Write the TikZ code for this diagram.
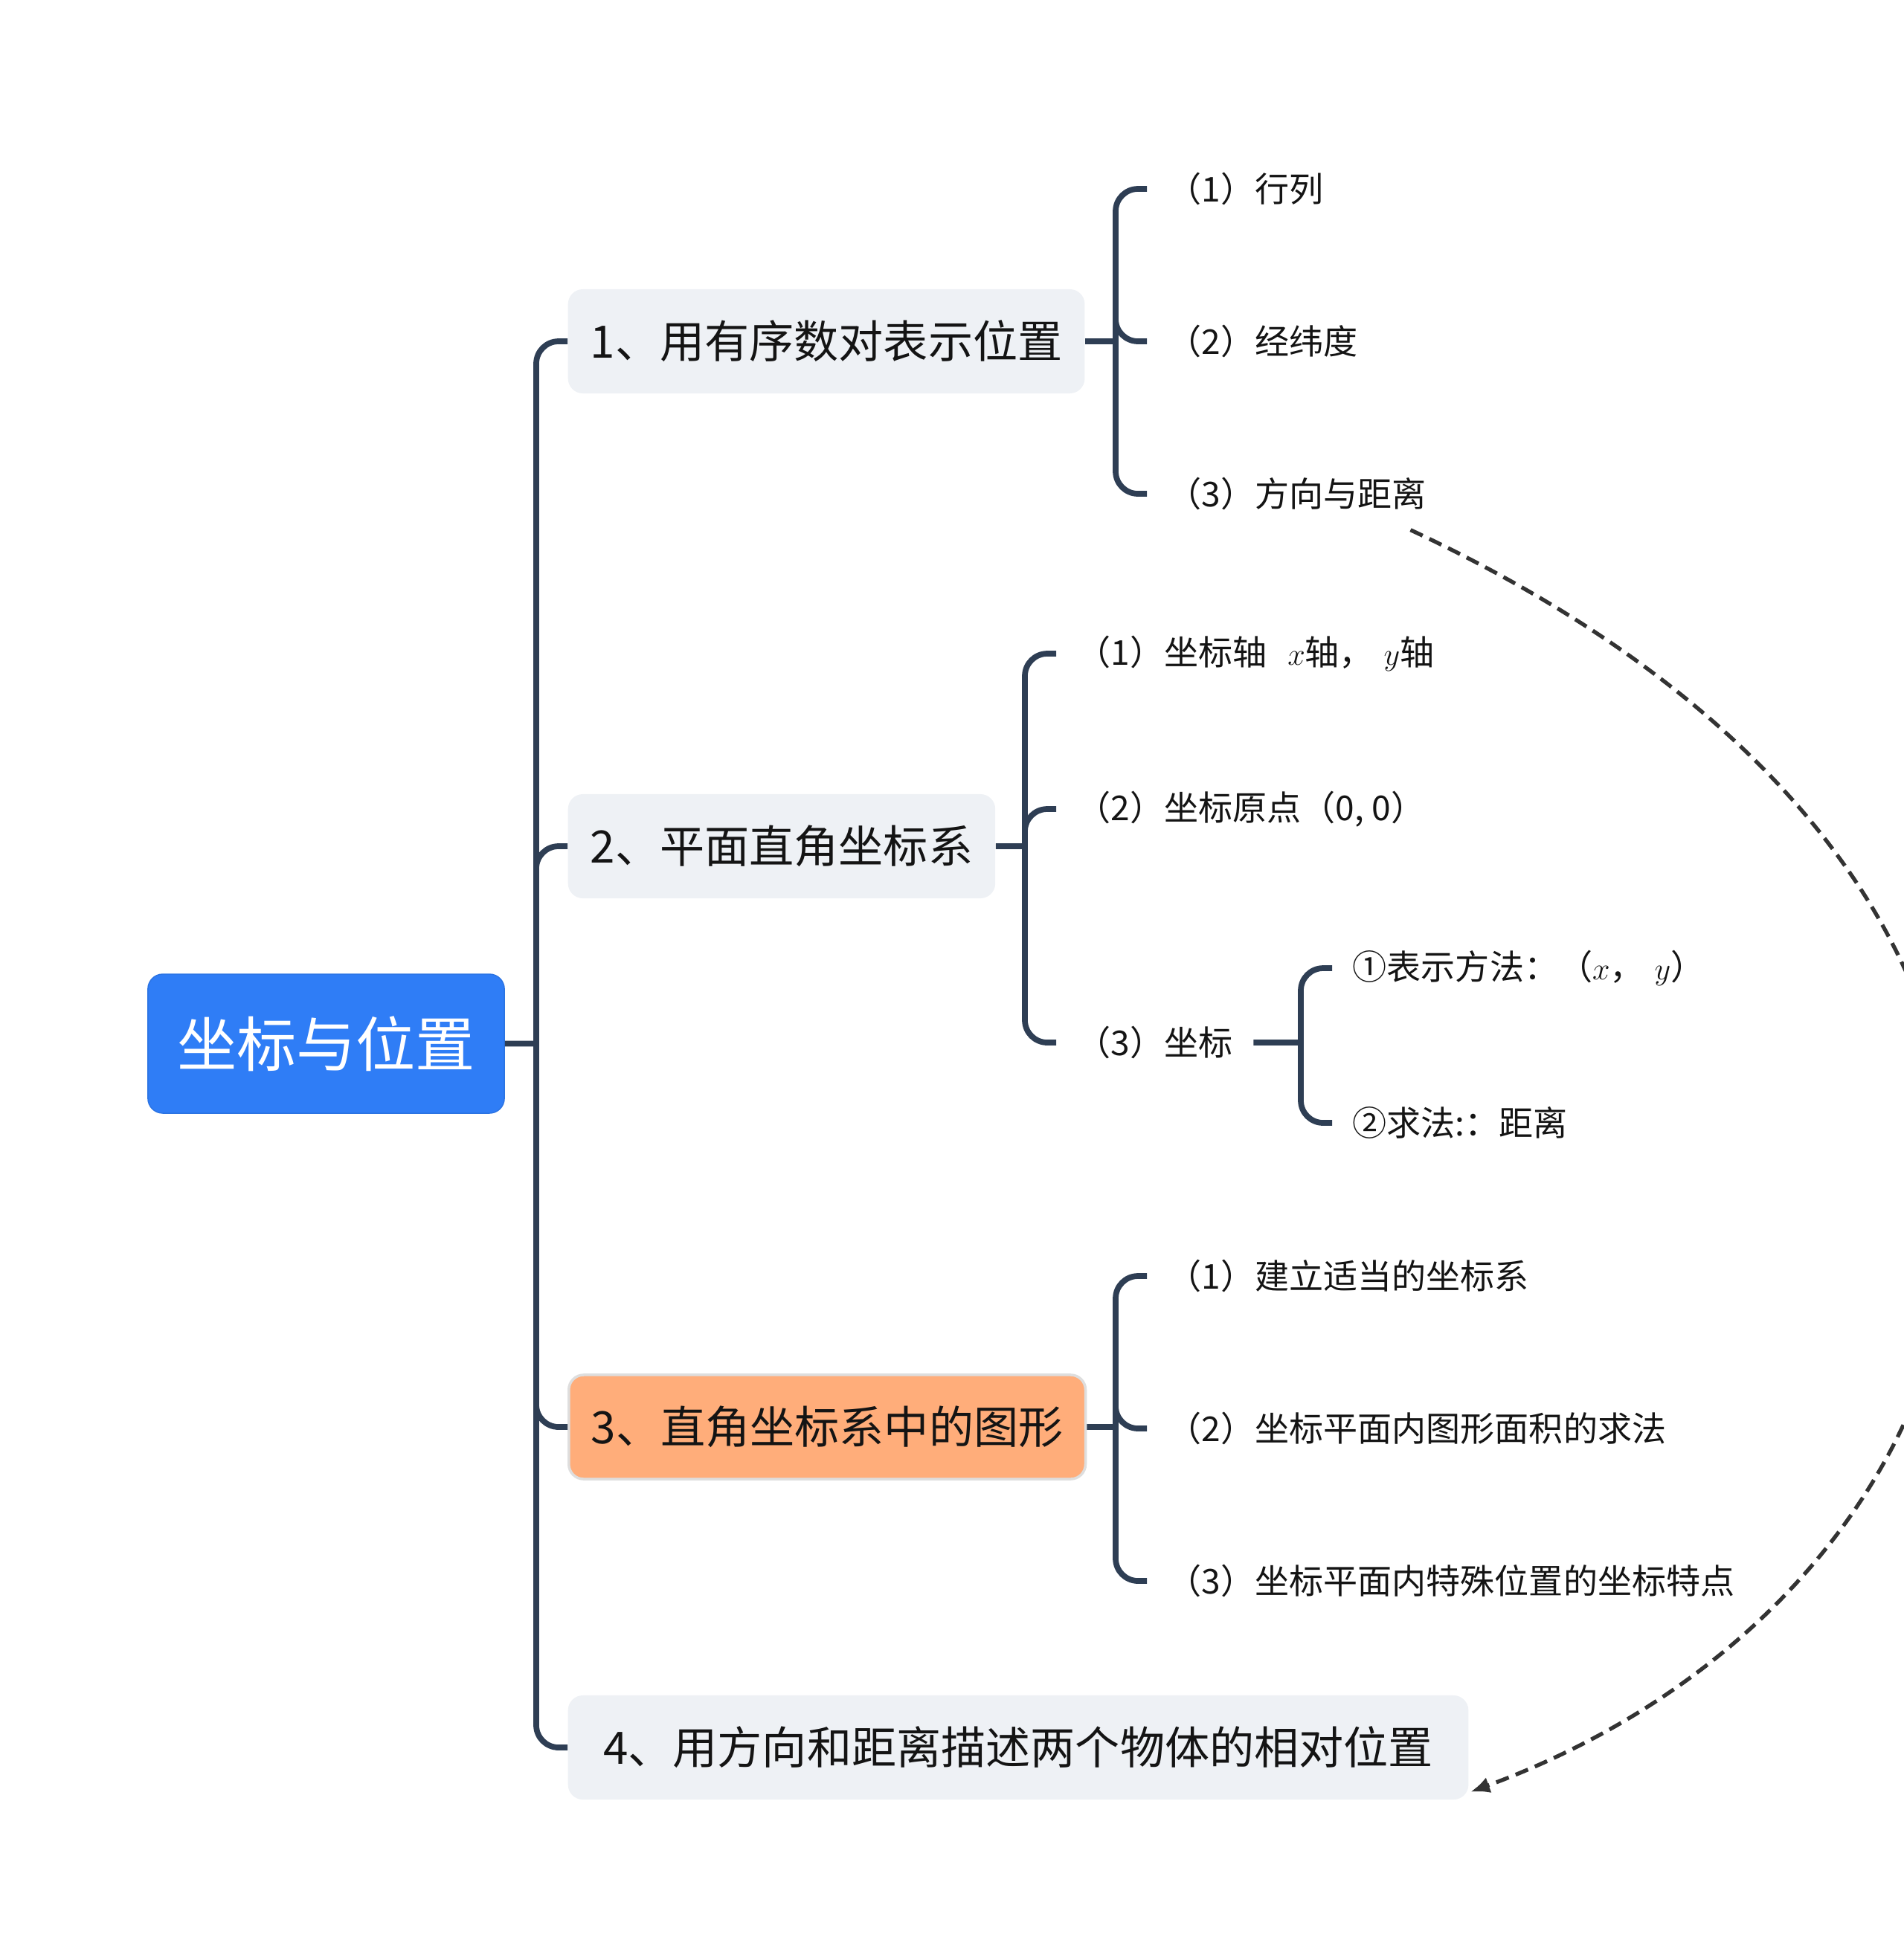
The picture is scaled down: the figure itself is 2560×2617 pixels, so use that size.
\documentclass[tikz,border=0pt]{standalone}
\usepackage{fontspec}
\setmainfont{Noto Sans CJK SC}
\usetikzlibrary{positioning, arrows.meta}
\definecolor{rootblue}{RGB}{47,125,246}
\definecolor{boxgray}{RGB}{238,241,245}
\definecolor{boxorange}{RGB}{255,173,122}
\definecolor{linkcol}{RGB}{46,62,84}
\definecolor{dashcol}{RGB}{51,51,51}
\definecolor{inkcol}{RGB}{20,20,20}
\tikzset{
  rootbox/.style={fill=rootblue, draw=rootblue!92!black, rounded corners=0.2cm, minimum width=4.79cm, minimum height=1.87cm, text=white, font=\fontsize{22.8pt}{26pt}\selectfont},
  topic/.style={fill=boxgray, rounded corners=0.2cm, minimum height=1.4cm, inner xsep=0.3cm, anchor=west, text=inkcol, font=\fontsize{17.1pt}{20pt}\selectfont},
  leaf/.style={inner xsep=0.27cm, inner ysep=0.1cm, anchor=west, text=inkcol, font=\fontsize{13.1pt}{16pt}\selectfont},
  link/.style={draw=linkcol, line width=2.2pt, rounded corners=0.3cm},
  relation/.style={draw=dashcol, line width=1.5pt, dash pattern=on 0.18cm off 0.1cm, -{Latex[length=0.26cm,width=0.22cm]}}}

\begin{document}
\begin{tikzpicture}[x=0.01cm, y=-0.01cm]
	\useasboundingbox (0,0) rectangle (2560,2617);
	\node[rootbox] (root) at (438.5,1403.5) {坐标与位置};
	\node[topic, minimum width=6.94cm] (b1) at (763,459) {1、用有序数对表示位置};
	\node[topic, minimum width=5.74cm] (b2) at (763,1138) {2、平面直角坐标系};
	\node[topic, minimum width=6.92cm, fill=boxorange, draw=black!13, line width=1pt] (b3) at (763,1919) {3、直角坐标系中的图形};
	\node[topic, minimum width=12.1cm] (b4) at (763,2350) {4、用方向和距离描述两个物体的相对位置};
	\node[leaf] (c11) at (1542,254) {（1）行列};
	\node[leaf] (c12) at (1542,459) {（2）经纬度};
	\node[leaf] (c13) at (1542,664) {（3）方向与距离};
	\node[leaf] (c21) at (1420,879) {（1）坐标轴\hspace{0.6em}$x$轴，\hspace{0.3em}$y$轴};
	\node[leaf] (c22) at (1420,1088) {（2）坐标原点（0, 0）};
	\node[leaf] (c23) at (1420,1402) {（3）坐标};
	\node[leaf] (c231) at (1791,1302) {①表示方法：（$x$，\hspace{0.3em}$y$）};
	\node[leaf] (c232) at (1791,1510) {②求法:：距离};
	\node[leaf] (c31) at (1542,1716) {（1）建立适当的坐标系};
	\node[leaf] (c32) at (1542,1921) {（2）坐标平面内图形面积的求法};
	\node[leaf] (c33) at (1542,2126) {（3）坐标平面内特殊位置的坐标特点};
	\coordinate (f0) at (721,1403.5);
	\coordinate (f1) at (1500,459);
	\coordinate (f2) at (1378,1138);
	\coordinate (f3) at (1500,1919);
	\coordinate (f23) at (1749,1402);
	\draw[link] (root.east) -- (f0) (f0) |- (b1.west) (f0) |- (b2.west) (f0) |- (b3.west) (f0) |- (b4.west);
	\draw[link] (b1.east) -- (f1) (f1) |- (c11.west) (f1) |- (c12.west) (f1) |- (c13.west);
	\draw[link] (b2.east) -- (f2) (f2) |- (c21.west) (f2) |- (c22.west) (f2) |- (c23.west);
	\draw[link] (c23.east) -- (f23) (f23) |- (c231.west) (f23) |- (c232.west);
	\draw[link] (b3.east) -- (f3) (f3) |- (c31.west) (f3) |- (c32.west) (f3) |- (c33.west);
	\draw[relation] ([shift={(-49,16)}]c13.south east) .. controls +(1077,503) and +(760,-280) .. ([shift={(2,-11)}]b4.south east);
\end{tikzpicture}
\end{document}
